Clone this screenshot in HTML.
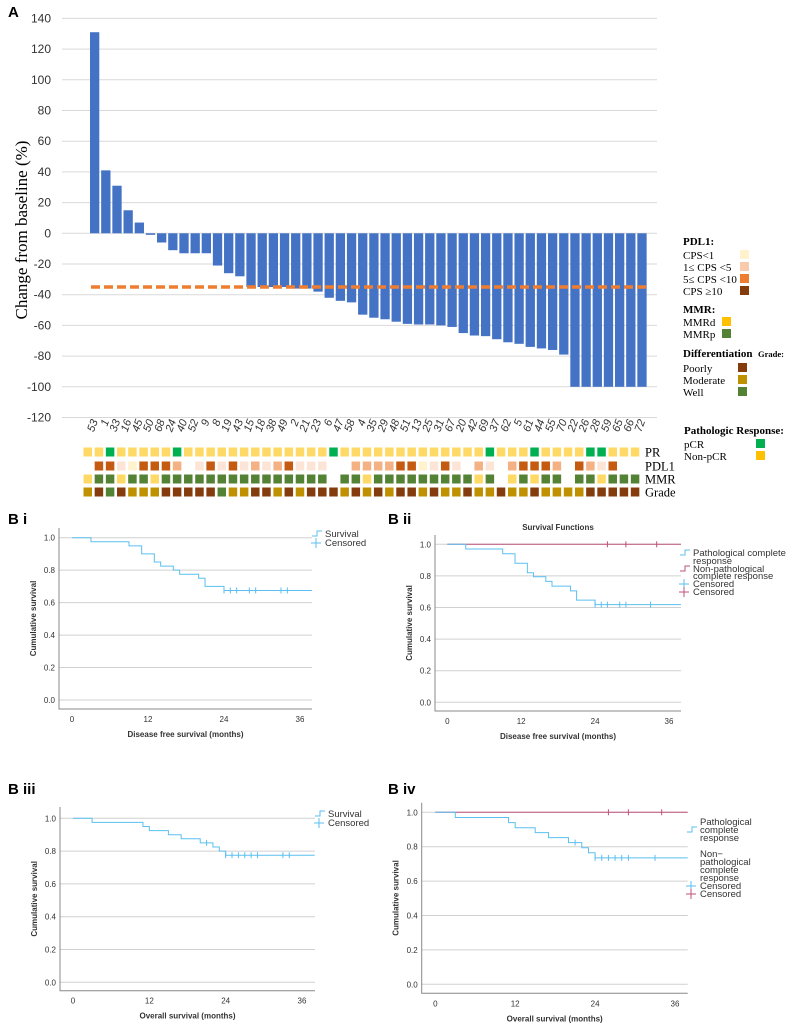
<!DOCTYPE html>
<html><head><meta charset="utf-8"><style>
body{margin:0;background:#fff}
svg{display:block}
.tk{font-family:"Liberation Sans",sans-serif;fill:#333}
.sf{font-family:"Liberation Serif",serif;fill:#000}
</style></head><body>
<svg id="s" width="792" height="1026" viewBox="0 0 792 1026" xmlns="http://www.w3.org/2000/svg">
<text x="8" y="17" font-family="Liberation Sans" font-weight="bold" font-size="15">A</text>
<text transform="translate(27,230) rotate(-90)" text-anchor="middle" class="sf" font-size="17">Change from baseline (%)</text>
<g id="wf"></g>
<g id="hm"></g>
<g id="leg"></g>
<g id="km"></g>
</svg>
<script>
const patients=[53,1,33,16,45,50,68,24,40,52,9,8,19,43,15,18,38,49,2,21,23,6,47,58,4,35,29,48,51,13,25,31,67,20,42,69,37,62,5,61,44,55,70,22,26,28,59,65,66,72];
const changes=[131,41,31,15,7,-1,-6,-11,-13,-13,-13,-21,-26,-28,-35,-35,-35,-35,-36,-36,-38,-42,-44,-45,-53,-55,-56,-57.6,-59,-59.4,-59.4,-60,-61,-65,-66.6,-67,-69,-71,-72,-74,-75,-76,-79,-100,-100,-100,-100,-100,-100,-100];
const threshold=-35;
const yTicks=[140,120,100,80,60,40,20,0,-20,-40,-60,-80,-100,-120];
// heatmap codes
const prRow="YYGYYYYYGYYYYYYYYYYYYYGYYYYYYYYYYYYYGYYYGYYYYGGYYY";
const pdl1Row="-DDLPDDDS-LDLDLSLSDLLL--SSSSDDPLDL-SL-SDDDS-DSLD--";
const mmrRow="YGGYGGYGGGGGGGGGGGGGGG-GGYGGGGGGGGGYG-YGYGG-GGYGGG";
const gradeRow="OBWBOOOBBBBBWOOBBOBOBBBOBOBOBBOBOOBOOBOOBOOOOBBBBB";

const NS="http://www.w3.org/2000/svg";
function mk(tag,attrs,parent,txt){const e=document.createElementNS(NS,tag);for(const k in attrs)e.setAttribute(k,attrs[k]);if(txt!==undefined)e.textContent=txt;parent.appendChild(e);return e;}
const wf=document.getElementById('wf');
const y0=233.3,ppu=1.535;
const Y=v=>y0-v*ppu;
const band=11.17,bx0=89;
const X=i=>bx0+i*band;
yTicks.forEach(t=>{
  const g=mk('line',{x1:62,x2:657,y1:Y(t),y2:Y(t),stroke:'#d9d9d9','stroke-width':1},wf);
  
  
  const l=mk('text',{x:51,y:Y(t)+4,'text-anchor':'end','font-size':12,class:'tk'},wf,t);
  
  
});
changes.forEach((v,i)=>{
  const top=Math.min(Y(v),Y(0)),h=Math.abs(Y(v)-Y(0));
  const r=mk('rect',{x:X(i)+1,y:top,width:9.3,height:Math.max(h,0.8),fill:'#4472C4'},wf);
  
  
  const t=mk('text',{transform:`translate(${X(i)+9},${421}) rotate(-70)`,'text-anchor':'end','font-size':11,'font-style':'italic',class:'tk',fill:'#595959'},wf,patients[i]);
  
  
});
const th=mk('line',{x1:X(0)+2,x2:X(changes.length-1)+10,y1:Y(threshold),y2:Y(threshold),stroke:'#ED7D31','stroke-width':3.5,'stroke-dasharray':'9,4'},wf);



// heatmap
const hm=document.getElementById('hm');
const cmap={Y:'#FFD966',G:'#00B050',D:'#C55A11',L:'#FCE4D6',P:'#FFF2CC',S:'#F4B183',M:'#548235',O:'#BF9000',B:'#843C0C',W:'#548235'};
const rows=[[prRow,452,'PR'],[pdl1Row,466,'PDL1'],[mmrRow,479,'MMR'],[gradeRow,492,'Grade']];
rows.forEach(([row,cy,name])=>{
  for(let i=0;i<row.length;i++){
    let c=row[i];if(c==='-')continue;
    let col;
    if(name==='MMR')col=c==='Y'?'#FFD966':'#548235';
    else col=cmap[c];
    const r=mk('rect',{x:83.5+i*band,y:cy-4.5,width:8.5,height:9,fill:col},hm);
    
    
  }
  const l=mk('text',{x:645,y:cy+4.5,'font-size':12.5,class:'sf'},hm,name);
  
  
});

// legend
const lg=document.getElementById('leg');
const legItems=[
 ['PDL1:',683,245,null,1],['CPS<1',683,259,'#FFF2CC',0,740],['1≤ CPS <5',683,271,'#F8CBAD',0,740],['5≤ CPS <10',683,283,'#ED7D31',0,740],['CPS ≥10',683,295,'#843C0C',0,740],
 ['MMR:',683,313,null,1],['MMRd',683,326,'#FFC000',0,722],['MMRp',683,338,'#548235',0,722],
 ['Differentiation',683,357,null,1],['Poorly',683,372,'#843C0C',0,738],['Moderate',683,384,'#BF9000',0,738],['Well',683,396,'#548235',0,738],
 ['Pathologic Response:',684,434,null,1],['pCR',684,448,'#00B050',0,756],['Non-pCR',684,460,'#FFC000',0,756]];
legItems.forEach(([t,x,y,c,b,bx])=>{
  const e=mk('text',{x,y,'font-size':11,class:'sf','font-weight':b?'bold':'normal'},lg,t);
  
  
  if(c){const r=mk('rect',{x:bx,y:y-9,width:9,height:9,fill:c},lg);
    
    }
});
const gt=mk('text',{x:758,y:357,'font-size':8.5,class:'sf','font-weight':'bold'},lg,'Grade:');



// KM data
const dfsAllT=[0,3,9,11,13,14,16,17,20,21,24,38];
const dfsAllS=[1,0.975,0.95,0.9,0.85,0.825,0.8,0.775,0.75,0.7,0.675,0.675];
const dfsAllC=[24,25,26,28,29,33,34];
const dfsPcrT=[0,3,9,11,13,14,16,17,20,21,24,38];
const dfsPcrS=[1,0.97,0.94,0.88,0.82,0.795,0.765,0.735,0.705,0.647,0.618,0.618];
const dfsPcrC=[24,25,26,28,29,33];
const nonPcrC=[26,29,34];
const osAllT=[0,3,11,12,15,17,20,22,23,24,38];
const osAllS=[1,0.975,0.95,0.925,0.9,0.875,0.85,0.825,0.8,0.775,0.775];
const osAllC=[21,24,25,26,27,28,29,33,34];
const osPcrT=[0,3,11,12,15,17,20,22,23,24,38];
const osPcrS=[1,0.97,0.94,0.91,0.882,0.853,0.824,0.794,0.765,0.735,0.735];
const osPcrC=[21,24,25,26,27,28,29,33];
const survTicks=[0,0.2,0.4,0.6,0.8,1.0];
const timeTicks=[0,12,24,36];

const km=document.getElementById('km');
function stepAt(T,S,t){let s=S[0];for(let i=0;i<T.length;i++)if(T[i]<=t)s=S[i];return s;}
function drawKM(p){
  const g=mk('g',{},km);
  
  
  const sx=t=>p.x0+(p.x36-p.x0)*t/36, sy=v=>p.y0+(p.y1-p.y0)*v;
  const lab=mk('text',{x:p.lx,y:p.ly,'font-family':'Liberation Sans','font-weight':'bold','font-size':15},g,p.label);
  
  
  survTicks.forEach(v=>{
    const l=mk('line',{x1:p.L,x2:p.R,y1:sy(v),y2:sy(v),stroke:'#d0d0d0'},g);
    
    
    const t=mk('text',{x:p.L-4,y:sy(v)+3,'text-anchor':'end','font-size':8,class:'tk'},g,v.toFixed(1));
    
    
  });
  timeTicks.forEach(v=>{
    const t=mk('text',{x:sx(v),y:p.B+13,'text-anchor':'middle','font-size':8,class:'tk'},g,v);
    
    
  });
  const ax=mk('path',{d:`M${p.L},${p.T}V${p.B}H${p.R}`,stroke:'#888',fill:'none'},g);
  
  
  const xt=mk('text',{x:(p.L+p.R)/2,y:p.B+28,'text-anchor':'middle','font-size':8,'font-weight':'bold',class:'tk',fill:'#222'},g,p.xt);
  
  
  const yt=mk('text',{transform:`translate(${p.L-23},${(p.T+p.B)/2}) rotate(-90)`,'text-anchor':'middle','font-size':8,'font-weight':'bold',class:'tk',fill:'#222'},g,'Cumulative survival');
  
  
  if(p.title){const tt=mk('text',{x:(p.L+p.R)/2,y:p.T-5,'text-anchor':'middle','font-size':8,'font-weight':'bold',class:'tk',fill:'#222'},g,p.title);
    
    }
  if(p.pink){
    const pl=mk('line',{x1:sx(0),x2:p.R,y1:sy(1),y2:sy(1),stroke:'#C0507A','stroke-width':1},g);
    
    
    p.pink.forEach(t=>{const c=mk('line',{x1:sx(t),x2:sx(t),y1:sy(1)-3,y2:sy(1)+3,stroke:'#C0507A'},g);
      
      });
  }
  let d=`M${sx(p.T_[0])},${sy(p.S_[0])}`;
  for(let i=1;i<p.T_.length;i++){d+=`H${Math.min(sx(p.T_[i]),p.R)}V${sy(p.S_[i])}`;}
  const c=mk('path',{d,stroke:'#5BC0F0',fill:'none','stroke-width':1},g);
  
  
  p.C_.forEach(t=>{const s=stepAt(p.T_,p.S_,t);const m=mk('line',{x1:sx(t),x2:sx(t),y1:sy(s)-3,y2:sy(s)+3,stroke:'#5BC0F0'},g);
    
    });
  p.leg.forEach(([txt,col,yy,sym])=>{
    const t=mk('text',{x:p.legx,y:yy,'font-size':9.5,class:'tk',fill:'#222'},g,txt);
    
    
    if(sym){const sxx=p.legx-10;
      const s=mk('path',{d:sym==='step'?`M${sxx-3},${yy-1}h5v-5h5`:`M${sxx-4},${yy-3}h10M${sxx+1},${yy-8}v10`,stroke:col,fill:'none'},g);
      
      }
  });
}
drawKM({name:'km-dfs-all',label:'B i',lx:8,ly:524,L:59,R:312,T:528,B:709,x0:72,x36:300,y1:537.7,y0:700,xt:'Disease free survival (months)',T_:dfsAllT,S_:dfsAllS,C_:dfsAllC,legx:325,
 leg:[['Survival','#5BC0F0',537,'step'],['Censored','#5BC0F0',546,'plus']]});
drawKM({name:'km-dfs-pcr',label:'B ii',lx:388,ly:524,L:435,R:681,T:535,B:711,x0:447.3,x36:669,y1:544.3,y0:702.3,title:'Survival Functions',xt:'Disease free survival (months)',T_:dfsPcrT,S_:dfsPcrS,C_:dfsPcrC,pink:nonPcrC,legx:693,
 leg:[['Pathological complete','#5BC0F0',556,'step'],['response','',564,null],['Non-pathological','#C0507A',572,'step'],['complete response','',579,null],['Censored','#5BC0F0',587,'plus'],['Censored','#C0507A',595,'plus']]});
drawKM({name:'km-os-all',label:'B iii',lx:8,ly:794,L:60,R:315,T:807,B:990.7,x0:73,x36:302,y1:818.3,y0:982.3,xt:'Overall survival (months)',T_:osAllT,S_:osAllS,C_:osAllC,legx:328,
 leg:[['Survival','#5BC0F0',817,'step'],['Censored','#5BC0F0',826,'plus']]});
drawKM({name:'km-os-pcr',label:'B iv',lx:388,ly:794,L:421.7,R:687.7,T:802.7,B:993.3,x0:435.3,x36:675,y1:812.3,y0:984.3,xt:'Overall survival (months)',T_:osPcrT,S_:osPcrS,C_:osPcrC,pink:nonPcrC,legx:700,
 leg:[['Pathological','#5BC0F0',825,null],['complete','#5BC0F0',833,'step'],['response','',841,null],['Non−','',857,null],['pathological','',865,null],['complete','#C0507A',873,null],['response','',881,null],['Censored','#5BC0F0',881+8,'plus'],['Censored','#C0507A',897,'plus']]});
</script>
</body></html>
